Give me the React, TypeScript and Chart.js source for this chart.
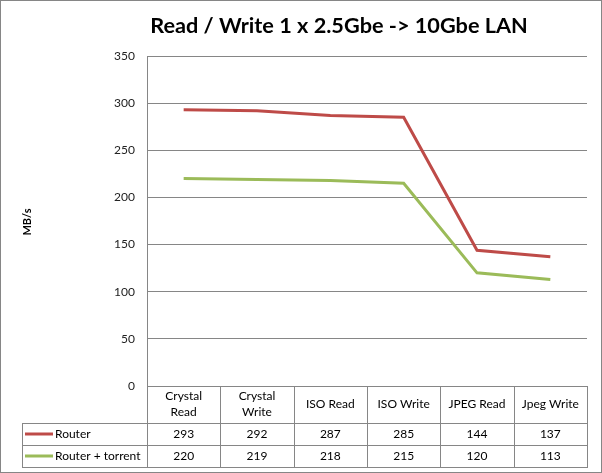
import React, { useEffect, useRef } from "react";
import { Chart, registerables } from "chart.js";

Chart.register(...registerables);

const categories: string[][] = [
  ["Crystal", "Read"],
  ["Crystal", "Write"],
  ["ISO Read"],
  ["ISO Write"],
  ["JPEG Read"],
  ["Jpeg Write"],
];
const routerValues = [293, 292, 287, 285, 144, 137];
const torrentValues = [220, 219, 218, 215, 120, 113];
const seriesNames = ["Router", "Router + torrent"];
const seriesColors = ["#BE4B48", "#9BBB59"];
const titleText = "Read / Write 1 x 2.5Gbe -> 10Gbe LAN";
const yAxisTitle = "MB/s";

const FONT = "Lato, 'Open Sans', sans-serif";
const GRID = "#868686";

const tablePlugin = {
  id: "tablePlugin",
  beforeDraw(chart: any) {
    const { ctx, width, height } = chart;
    ctx.save();
    ctx.fillStyle = "#ffffff";
    ctx.fillRect(0, 0, width, height);
    ctx.strokeStyle = GRID;
    ctx.lineWidth = 1;
    ctx.strokeRect(0.5, 0.5, width - 1, height - 1);
    ctx.restore();
  },
  afterDraw(chart: any) {
    const { ctx, chartArea } = chart;
    const xs = chart.scales.x;
    const n = categories.length;
    const left = chartArea.left;
    const right = chartArea.right;
    const colW = (right - left) / n;
    const top = chartArea.bottom;
    const r1 = top + 37;
    const r2 = r1 + 22;
    const r3 = r2 + 22;
    const tableLeft = 22;
    ctx.save();
    ctx.strokeStyle = GRID;
    ctx.lineWidth = 1;
    ctx.beginPath();
    for (let k = 0; k <= n; k++) {
      const x = Math.round(left + k * colW) + 0.5;
      ctx.moveTo(x, top);
      ctx.lineTo(x, r3);
    }
    ctx.moveTo(tableLeft + 0.5, r1);
    ctx.lineTo(tableLeft + 0.5, r3);
    [r1, r2, r3].forEach((y) => {
      ctx.moveTo(tableLeft, Math.round(y) + 0.5);
      ctx.lineTo(Math.round(right) + 1, Math.round(y) + 0.5);
    });
    ctx.stroke();

    ctx.fillStyle = "#000000";
    ctx.font = `12px ${FONT}`;
    ctx.textAlign = "center";
    ctx.textBaseline = "middle";
    const hc = (top + r1) / 2;
    categories.forEach((lines, i) => {
      const cx = xs.getPixelForValue(i);
      const lh = 16;
      lines.forEach((t, j) => {
        const y = hc + (j - (lines.length - 1) / 2) * lh;
        ctx.fillText(t, cx, y);
      });
    });
    const rows = [routerValues, torrentValues];
    const rowTops = [r1, r2];
    rows.forEach((vals, ri) => {
      const cy = rowTops[ri] + 11;
      ctx.textAlign = "center";
      ctx.fillStyle = "#000000";
      vals.forEach((v, i) => {
        ctx.fillText(String(v), xs.getPixelForValue(i), cy);
      });
      ctx.strokeStyle = seriesColors[ri];
      ctx.lineWidth = 3;
      ctx.beginPath();
      ctx.moveTo(25, cy);
      ctx.lineTo(53, cy);
      ctx.stroke();
      ctx.textAlign = "left";
      ctx.fillText(seriesNames[ri], 55, cy);
    });

    ctx.font = `bold 21.7px ${FONT}`;
    ctx.textAlign = "center";
    ctx.textBaseline = "alphabetic";
    ctx.fillText(titleText, 339, 33);

    ctx.font = `bold 11px ${FONT}`;
    ctx.translate(27, 222);
    ctx.rotate(-Math.PI / 2);
    ctx.textAlign = "center";
    ctx.textBaseline = "middle";
    ctx.fillText(yAxisTitle, 0, 0);
    ctx.restore();
  },
};

export default function App() {
  const ref = useRef<HTMLCanvasElement | null>(null);
  useEffect(() => {
    if (!ref.current) return;
    const chart = new Chart(ref.current, {
      type: "line",
      data: {
        labels: categories.map((c) => c.join(" ")),
        datasets: [
          {
            label: seriesNames[0],
            data: routerValues,
            borderColor: seriesColors[0],
            backgroundColor: seriesColors[0],
            borderWidth: 3,
            pointRadius: 0,
            tension: 0,
          },
          {
            label: seriesNames[1],
            data: torrentValues,
            borderColor: seriesColors[1],
            backgroundColor: seriesColors[1],
            borderWidth: 3,
            pointRadius: 0,
            tension: 0,
          },
        ],
      },
      options: {
        responsive: false,
        animation: false,
        layout: { padding: { left: 0, top: 56, right: 15, bottom: 0 } },
        plugins: {
          legend: { display: false },
          title: { display: false },
          tooltip: { enabled: false },
        },
        scales: {
          x: {
            type: "category",
            offset: true,
            grid: { display: false },
            border: { display: false },
            ticks: { display: false },
            afterFit: (s: any) => {
              s.height = 87;
            },
          },
          y: {
            min: 0,
            max: 350,
            ticks: {
              stepSize: 50,
              padding: 12,
              color: "#222222",
              font: { family: FONT, size: 12 },
            },
            grid: { color: GRID, drawTicks: false, lineWidth: 1 },
            border: { display: true, color: GRID },
            afterFit: (s: any) => {
              s.width = 147;
            },
          },
        },
      },
      plugins: [tablePlugin],
    });
    return () => chart.destroy();
  }, []);
  return (
    <div style={{ position: "absolute", left: 0, top: 0, width: 602, height: 473 }}>
      <canvas ref={ref} width={602} height={473} />
    </div>
  );
}
